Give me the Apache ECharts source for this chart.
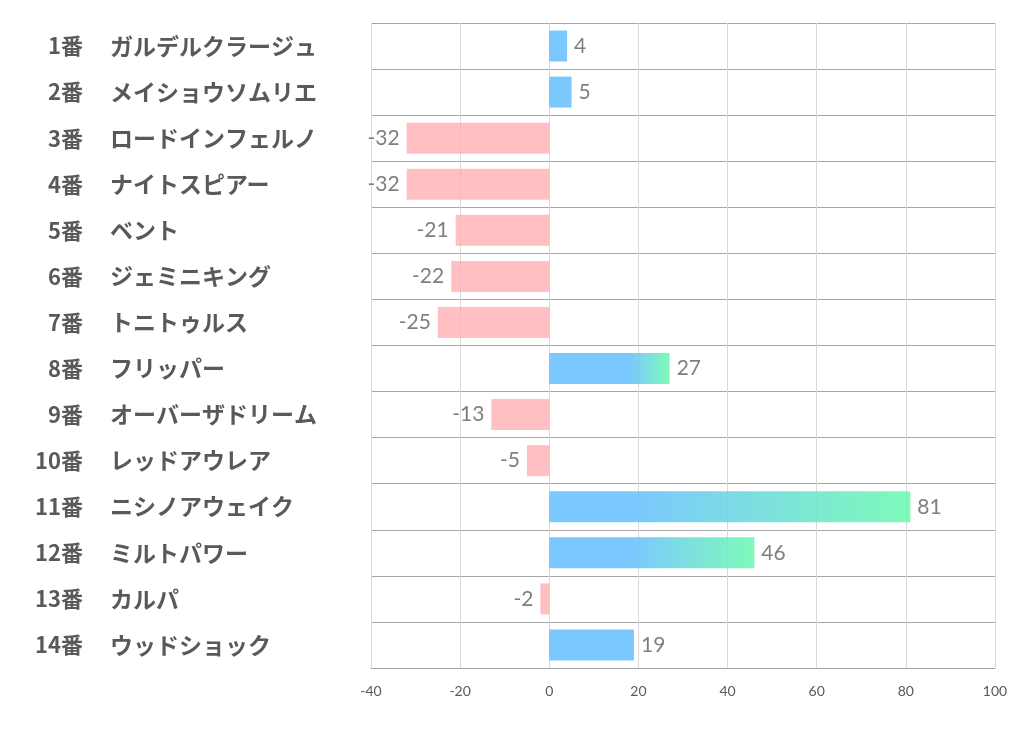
<!DOCTYPE html>
<html>
<head>
<meta charset="utf-8">
<script src="https://cdn.jsdelivr.net/npm/echarts@6/dist/echarts.min.js"></script>
<style>html,body{margin:0;padding:0;background:#fff;}#c{width:1022px;height:730px;}</style>
</head>
<body>
<div id="c"></div>
<script>
const numbers = ['1番','2番','3番','4番','5番','6番','7番','8番','9番','10番','11番','12番','13番','14番'];
const names = ['ガルデルクラージュ','メイショウソムリエ','ロードインフェルノ','ナイトスピアー','ベント','ジェミニキング','トニトゥルス','フリッパー','オーバーザドリーム','レッドアウレア','ニシノアウェイク','ミルトパワー','カルパ','ウッドショック'];
const values = [4,5,-32,-32,-21,-22,-25,27,-13,-5,81,46,-2,19];
const xMin = -40, xMax = 100, xStep = 20;

const BLUE = 'rgba(100,190,255,0.85)';
const GREEN = 'rgba(103,250,173,0.85)';
const PINK = 'rgba(255,170,175,0.75)';
const GRAD_START = 18;

function barColor(v) {
  if (v < 0) return PINK;
  if (v <= GRAD_START + 2) return BLUE;
  return {
    type: 'linear', x: 0, y: 0, x2: 1, y2: 0,
    colorStops: [
      {offset: 0, color: BLUE},
      {offset: GRAD_START / v, color: BLUE},
      {offset: 1, color: GREEN}
    ]
  };
}

const labelFont = '"Noto Sans CJK JP", sans-serif';
const chart = echarts.init(document.getElementById('c'));
chart.setOption({
  animation: false,
  grid: {left: 371, right: 27, top: 23, bottom: 62},
  xAxis: {
    type: 'value', min: xMin, max: xMax, interval: xStep,
    axisLine: {show: true, lineStyle: {color: '#a6a6a6', width: 1}},
    axisTick: {show: false},
    splitLine: {show: true, lineStyle: {color: '#d9d9d9', width: 1}},
    axisLabel: {color: '#595959', fontSize: 14, fontFamily: 'Lato, sans-serif', margin: 16}
  },
  yAxis: [{
    type: 'category', inverse: true, position: 'left',
    data: names,
    axisLine: {show: false},
    axisTick: {show: false},
    splitLine: {show: true, lineStyle: {color: '#a6a6a6', width: 1}},
    axisLabel: {
      align: 'left', margin: 261,
      fontSize: 23, fontWeight: 'bold', color: '#595959', fontFamily: labelFont
    }
  }, {
    type: 'category', inverse: true, position: 'left',
    data: numbers,
    axisLine: {show: false},
    axisTick: {show: false},
    splitLine: {show: false},
    axisLabel: {
      align: 'right', margin: 288,
      fontSize: 22, fontWeight: 'bold', color: '#595959', fontFamily: labelFont
    }
  }],
  series: [{
    type: 'bar',
    barWidth: 31,
    data: values.map(v => ({
      value: v,
      itemStyle: {color: barColor(v)},
      label: {position: v < 0 ? 'left' : 'right'}
    })),
    label: {
      show: true, distance: 7,
      color: '#7f7f7f', fontSize: 21, fontFamily: 'Lato, sans-serif'
    }
  }]
});
</script>
</body>
</html>
